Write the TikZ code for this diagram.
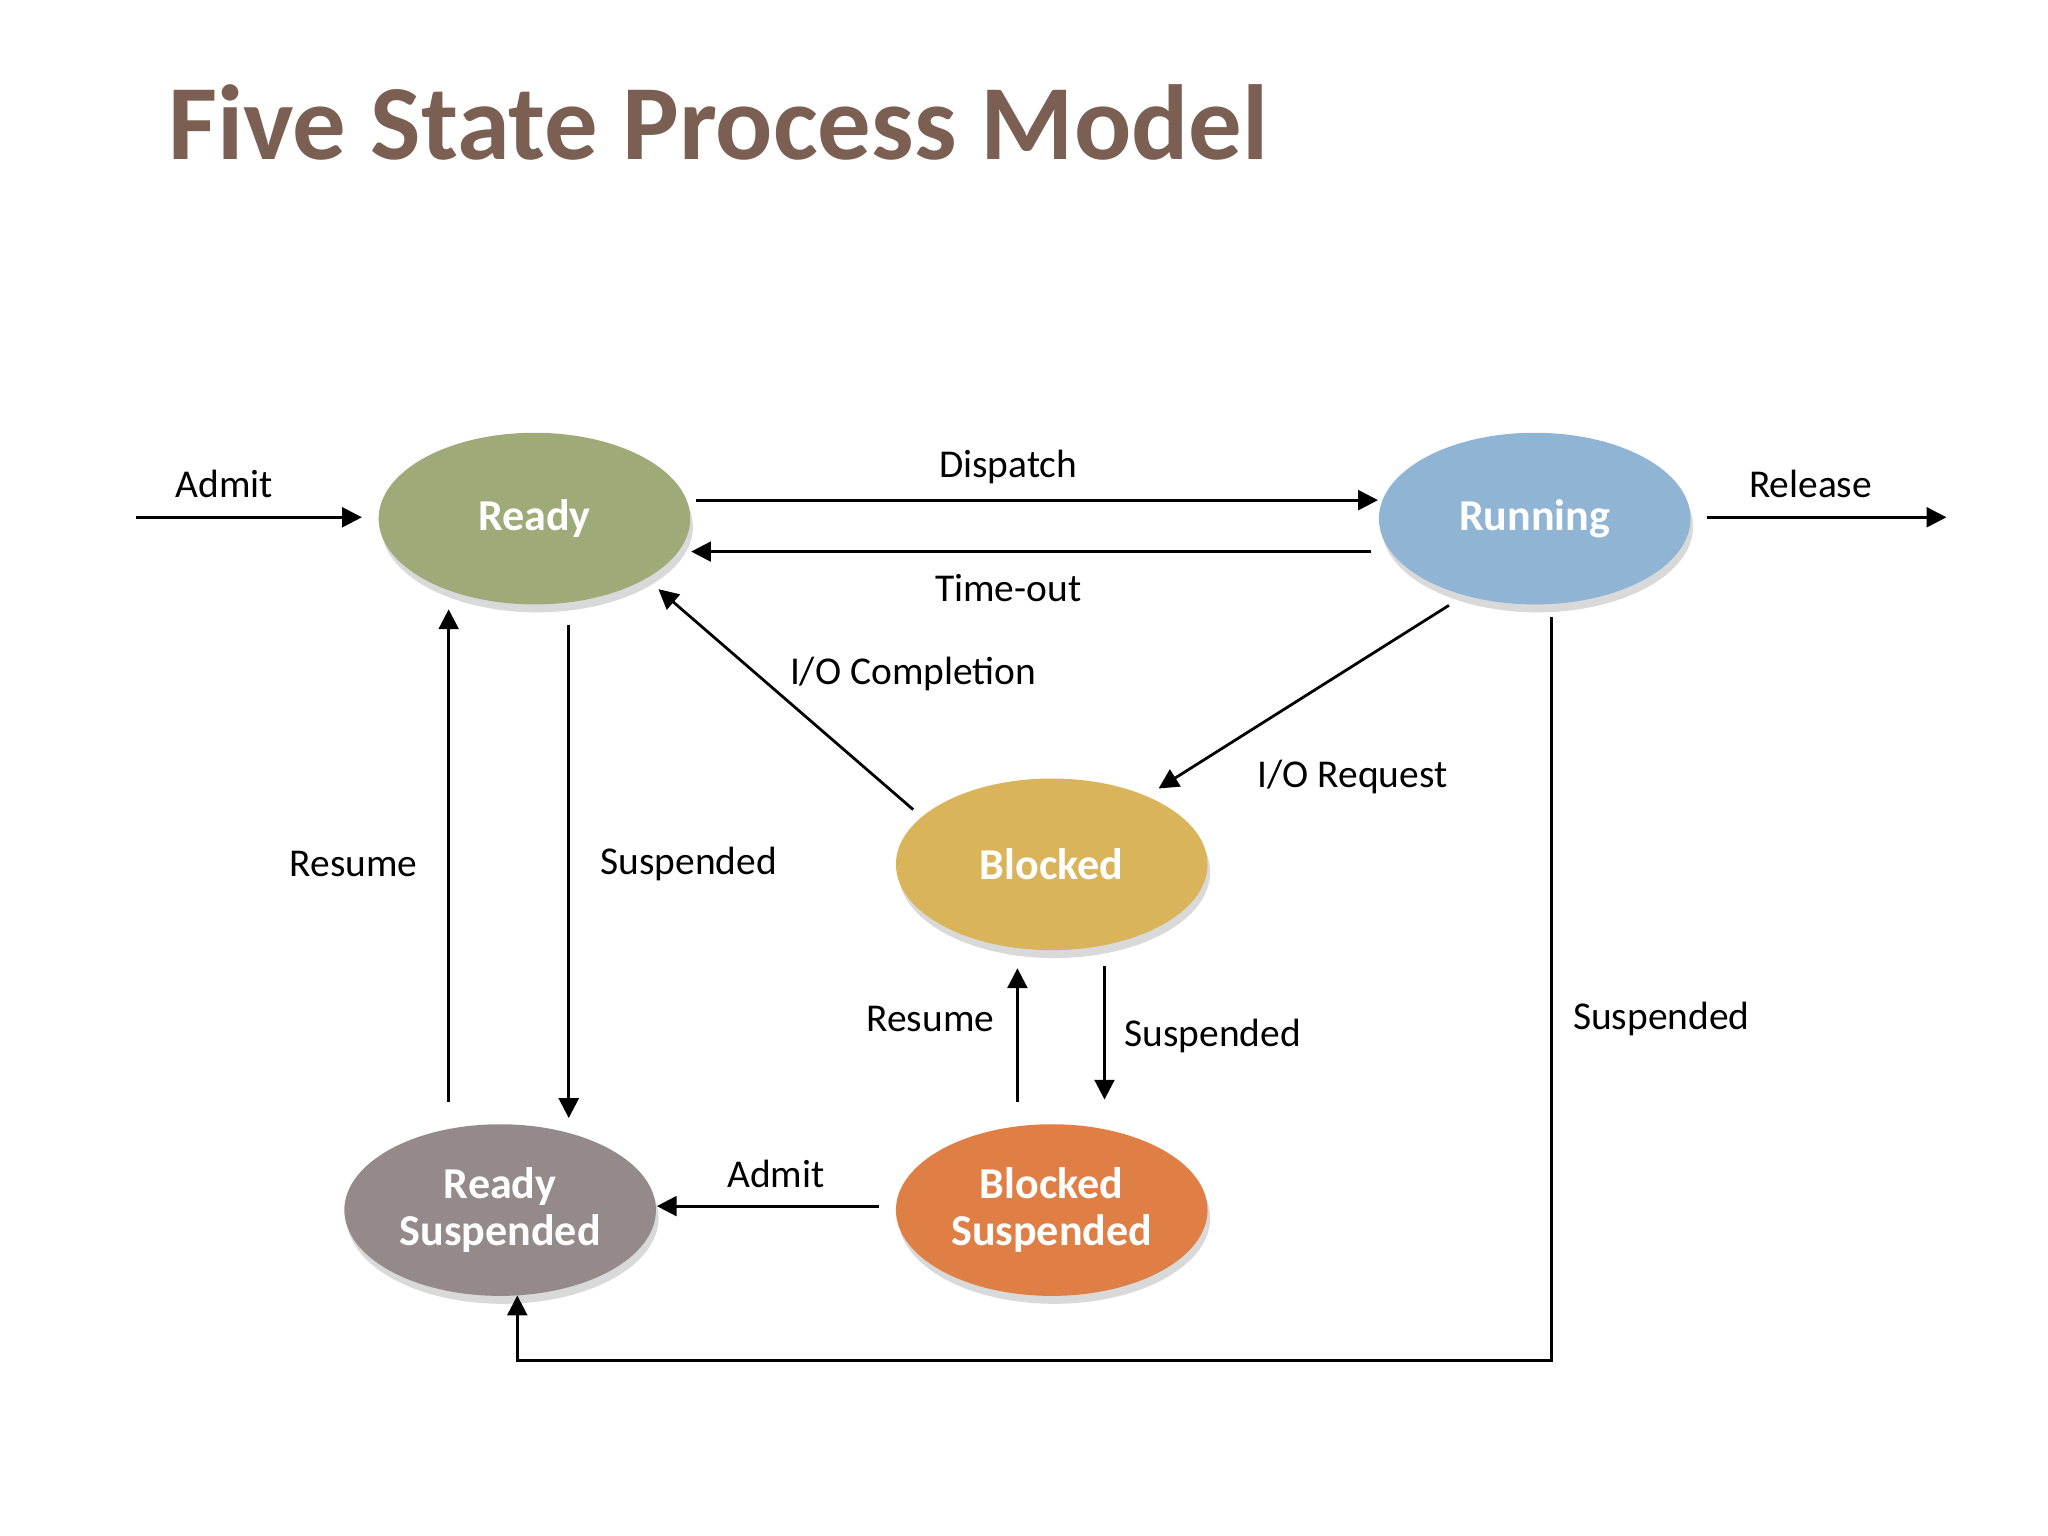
\documentclass[tikz,border=0pt]{standalone}
\usepackage{fontspec}
\setmainfont{Carlito}
\usetikzlibrary{arrows.meta,shadows,shapes.geometric}
\definecolor{titlebrown}{HTML}{7A5F52}
\definecolor{readygreen}{HTML}{9EAA78}
\definecolor{runblue}{HTML}{8FB4D4}
\definecolor{blockgold}{HTML}{D9B45A}
\definecolor{suspgray}{HTML}{948A89}
\definecolor{susporange}{HTML}{DF7F45}
\tikzset{
  state/.style={ellipse, minimum width=2.36cm, minimum height=1.3cm, inner sep=0pt, draw=none,
    text=white, font=\fontsize{9.5}{10}\selectfont\bfseries, align=center,
    drop shadow={shadow xshift=0.2mm, shadow yshift=-0.6mm, opacity=0.3}},
  trans/.style={-{Triangle[length=1.5mm,width=1.5mm]}, semithick},
  lbl/.style={font=\fontsize{8.5}{10}\selectfont}
}
\begin{document}
\begin{tikzpicture}[x=0.01cm,y=-0.01cm]
\useasboundingbox (0,0) rectangle (1552,1164);
\node[anchor=west, text=titlebrown, font=\fontsize{23}{26}\selectfont\bfseries] (title) at (115,93) {Five State Process Model};

% states
\node[state, fill=readygreen] (ready) at (405,393) {Ready};
\node[state, fill=runblue] (run) at (1163,393) {Running};
\node[state, fill=blockgold] (blk) at (797,655) {Blocked};
\node[state, fill=suspgray] (rsusp) at (379,917) {Ready\\Suspended};
\node[state, fill=susporange] (bsusp) at (797,917) {Blocked\\Suspended};

% free ends
\coordinate (admitin) at (103,392);
\coordinate (relout) at (1475,392);
\coordinate (corner1) at (1176,1031);
\coordinate (corner2) at (392,1031);

% transitions
\draw[trans] (admitin) -- ([shift={(-12,-1)}]ready.west);
\draw[trans] ([shift={(12,-1)}]run.east) -- (relout);
\draw[trans] ([shift={(4,-14)}]ready.east) -- ([shift={(0,-14)}]run.west);
\draw[trans] ([shift={(-5,25)}]run.west) -- ([shift={(0,25)}]ready.east);
\draw[trans] ([shift={(-21,5)}]blk.north west) -- ([shift={(10,7)}]ready.south east);
\draw[trans] ([shift={(-65,0)}]run.south) -- ([shift={(-3,-11)}]blk.north east);
\draw[trans] ([shift={(26,15)}]ready.south) -- ([shift={(52,-4)}]rsusp.north);
\draw[trans] ([shift={(-39,-16)}]rsusp.north) -- ([shift={(-65,3)}]ready.south);
\draw[trans] ([shift={(-26,-16)}]bsusp.north) -- ([shift={(-26,13)}]blk.south);
\draw[trans] ([shift={(40,11)}]blk.south) -- ([shift={(40,-18)}]bsusp.north);
\draw[trans] ([shift={(-12,-3)}]bsusp.west) -- ([shift={(0,-3)}]rsusp.east);
\draw[trans] ([shift={(13,9)}]run.south) -- (corner1) -- (corner2) -- ([shift={(13,-1)}]rsusp.south);

% labels
\node[lbl] (admitlbl) at (170,367) {Admit};
\node[lbl] (rellbl) at (1372,367) {Release};
\node[lbl] (displbl) at (764,354) {Dispatch};
\node[lbl] (timelbl) at (764,446) {Time-out};
\node[lbl] (iocomplbl) at (692,511) {I/O Completion};
\node[lbl] (ioreqlbl) at (1025,589) {I/O Request};
\node[lbl] (susplblA) at (522,655) {Suspended};
\node[lbl] (reslblA) at (268,655) {Resume};
\node[lbl] (reslblB) at (705,772) {Resume};
\node[lbl] (susplblB) at (919,785) {Suspended};
\node[lbl] (admitlblB) at (588,890) {Admit};
\node[lbl] (susplblC) at (1259,772) {Suspended};
\end{tikzpicture}
\end{document}
